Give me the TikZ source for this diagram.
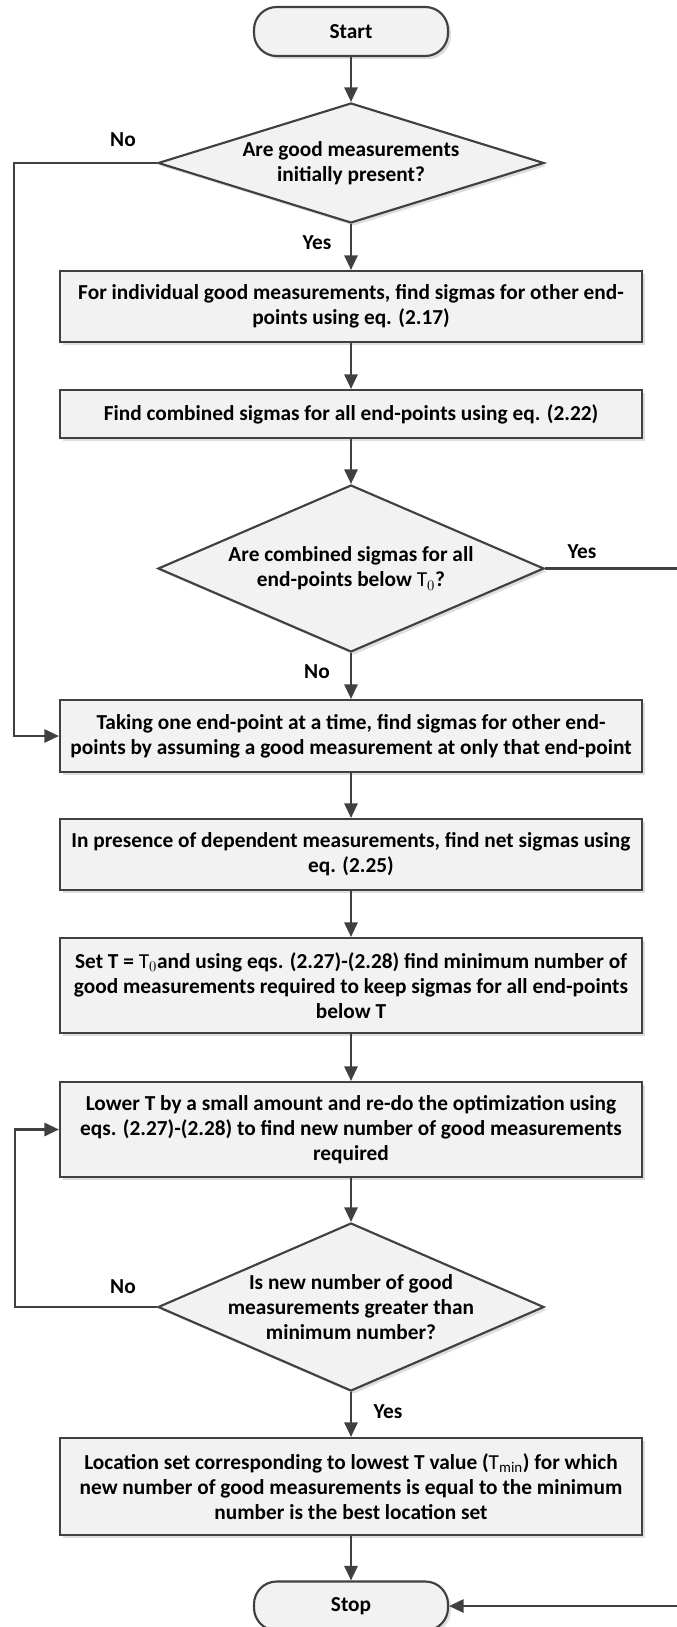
\documentclass[tikz,border=0pt]{standalone}
\usepackage{fontspec}
\setmainfont{Carlito}
\usetikzlibrary{shapes.geometric,arrows.meta,shadows}
\definecolor{ln}{HTML}{404040}
\definecolor{bx}{HTML}{F2F2F2}
\definecolor{sh}{HTML}{C8C8C8}
\begin{document}
\begin{tikzpicture}[x=0.75pt,y=-0.75pt,
  every node/.style={font=\bfseries\fontsize{16}{18.75}\selectfont, text=black},
  shade1/.style={drop shadow={shadow xshift=2.2pt, shadow yshift=-2.2pt, fill=sh, opacity=0.6}},
  procbox/.style={rectangle, draw=ln, line width=1.6pt, fill=bx, minimum width=436.5pt, align=center, inner sep=0pt, shade1},
  termbox/.style={rectangle, rounded corners=17pt, draw=ln, line width=1.6pt, fill=bx, minimum width=145.5pt, minimum height=36.75pt, inner sep=0pt, shade1},
  decbox/.style={diamond, draw=ln, line width=1.6pt, fill=bx, minimum width=289.5pt, inner sep=0pt, shade1},
  arr/.style={draw=ln, line width=1.6pt, -{Triangle[length=11pt,width=10pt]}},
  lbl/.style={inner sep=0pt}
]
\useasboundingbox (0,0) rectangle (676,1627);

% nodes
\node[termbox] (start) at (351,31.5) {Start};
\node[decbox, minimum height=90pt,
  label={[align=center,lbl]center:Are good measurements\\initially present?}] (d1) at (351,163) {};
\node[procbox, minimum height=53.25pt] (b1) at (351,306.5)
  {For individual good measurements, find sigmas for other end-\\points using eq. (2.17)};
\node[procbox, minimum height=36pt] (b2) at (351,414)
  {Find combined sigmas for all end-points using eq. (2.22)};
\node[decbox, minimum height=125.25pt,
  label={[align=center,lbl]center:Are combined sigmas for all\\end-points below $\mathrm{T}_0$?}] (d2) at (351,568.5) {};
\node[procbox, minimum height=54pt] (b3) at (351,736)
  {Taking one end-point at a time, find sigmas for other end-\\points by assuming a good measurement at only that end-point};
\node[procbox, minimum height=53.25pt] (b4) at (351,854.5)
  {In presence of dependent measurements, find net sigmas using\\eq. (2.25)};
\node[procbox, minimum height=71.25pt] (b5) at (351,985.5)
  {Set T = $\mathrm{T}_0$and using eqs. (2.27)-(2.28) find minimum number of\\good measurements required to keep sigmas for all end-points\\below T};
\node[procbox, minimum height=71.25pt] (b6) at (351,1129.5)
  {Lower T by a small amount and re-do the optimization using\\eqs. (2.27)-(2.28) to find new number of good measurements\\required};
\node[decbox, minimum height=126pt,
  label={[align=center,lbl]center:Is new number of good\\measurements greater than\\minimum number?}] (d3) at (351,1307) {};
\node[procbox, minimum height=72.75pt] (b7) at (351,1486.5)
  {Location set corresponding to lowest T value ($\mathrm{T}_{\mathrm{min}}$) for which\\new number of good measurements is equal to the minimum\\number is the best location set};
\node[termbox] (stop) at (351,1606) {Stop};

% bend points
\coordinate (L1) at (14,163);
\coordinate (R2) at (681,568.5);
\coordinate (L3) at (15,1307);

% connectors
\draw[arr] (start) -- (d1);
\draw[arr] (d1.south) -- (b1);
\draw[arr] (b1) -- (b2);
\draw[arr] (b2) -- (d2);
\draw[arr] (d2.south) -- (b3);
\draw[arr] (b3) -- (b4);
\draw[arr] (b4) -- (b5);
\draw[arr] (b5) -- (b6);
\draw[arr] (b6) -- (d3);
\draw[arr] (d3.south) -- (b7);
\draw[arr] (b7) -- (stop);
\draw[arr] (d1.west) -- (L1) |- (b3.west);
\draw[arr] (d2.east) -- (R2) |- (stop.east);
\draw[arr] (d3.west) -- (L3) |- (b6.west);

% branch labels
\node[lbl] (n1) at (123,140) {No};
\node[lbl] (y1) at (317,243) {Yes};
\node[lbl] (y2) at (582,552) {Yes};
\node[lbl] (n2) at (317,672) {No};
\node[lbl] (n3) at (123,1287) {No};
\node[lbl] (y3) at (388,1412) {Yes};
\end{tikzpicture}
\end{document}
